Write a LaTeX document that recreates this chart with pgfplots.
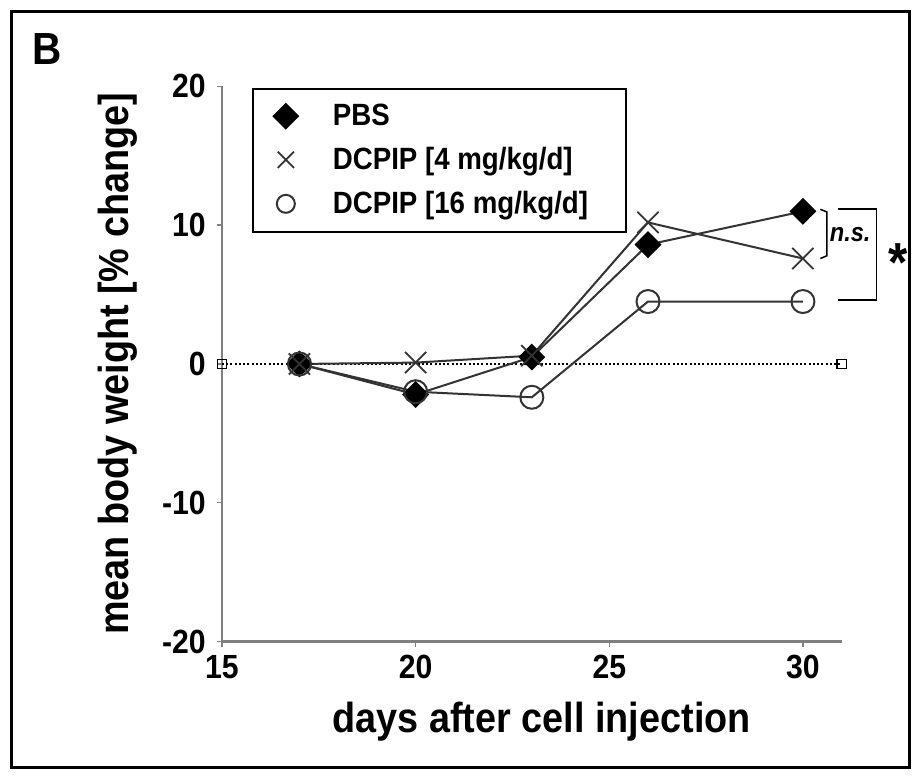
\documentclass[border=0pt]{standalone}
\usepackage{pgfplots}
\pgfplotsset{compat=1.18}
\usepackage{fontspec}
\setmainfont[FakeStretch=0.9]{Liberation Sans}
\definecolor{spine}{HTML}{808080}
\definecolor{ser}{HTML}{333333}

\begin{document}
\begin{tikzpicture}
\begin{axis}[
    x=15.49pt, y=5.55pt,
    xmin=15, xmax=31, ymin=-20, ymax=20,
    axis lines=left, axis line style={-, spine, line width=0.9pt},
    xtick={15,20,25,30}, xticklabels={15,20,25,30},
    ytick={-20,-10,0,10,20}, yticklabels={-20,-10,0,10,20},
    tick align=outside, major tick length=2pt,
    tick style={spine, line width=0.6pt},
    ticklabel style={font=\fontsize{13.4}{15}\selectfont\bfseries},
    yticklabel style={xshift=-1pt},
    xlabel={days after cell injection},
    ylabel={mean body weight [\% change]},
    xlabel style={font=\fontsize{16.8}{19}\selectfont\bfseries, at={(axis description cs:0.516,-0.144)}, anchor=center},
    ylabel style={font=\fontsize{16.8}{19}\selectfont\bfseries, at={(axis description cs:-0.169,0.5)}, anchor=center, rotate=0},
    clip=false,
    legend cell align=left,
    legend style={at={(axis description cs:0.048,0.998)}, anchor=north west,
        draw=black, line width=0.8pt, font=\fontsize{12.3}{14}\selectfont\bfseries,
        row sep=3.2pt, inner xsep=3pt, inner ysep=4pt},
    legend image code/.code={\path[draw=none] (0cm,0cm) -- (0.95cm,0cm);
        \draw[#1,only marks] plot coordinates {(0.36cm,0cm)};},
]
% zero reference line
\addplot[black, line width=1pt, dash pattern=on 0.8pt off 0.9pt, mark=square, mark size=1.9pt, mark options={solid, fill=white, line width=0.5pt}, forget plot]
  coordinates {(15,0) (31,0)};

\addplot[ser, line width=0.8pt, mark=square*, mark size=3.4pt, mark options={black, rotate=45}]
  coordinates {(17,0) (20,-2.2) (23,0.5) (26,8.6) (30,11.0)};
\addlegendentry{PBS}

\addplot[ser, line width=0.8pt, mark=x, mark size=6pt, mark options={ser, line width=0.7pt},
  legend image post style={mark size=4.6pt}]
  coordinates {(17,0) (20,0.1) (23,0.6) (26,10.2) (30,7.6)};
\addlegendentry{DCPIP [4 mg/kg/d]}

\addplot[ser, line width=0.8pt, mark=o, mark size=4.6pt, mark options={ser, line width=0.8pt},
  legend image post style={mark size=3.6pt}]
  coordinates {(17,0) (20,-2.0) (23,-2.4) (26,4.5) (30,4.5)};
\addlegendentry{DCPIP [16 mg/kg/d]\hspace*{10pt}}

% significance brackets
\draw[black, line width=0.6pt] (axis cs:30.45,11.15) -- (axis cs:30.62,10.95) -- (axis cs:30.62,7.8) -- (axis cs:30.45,7.6);
\draw[black, line width=0.6pt] (axis cs:30.9,11.17) -- (axis cs:31.9,11.17) -- (axis cs:31.9,4.61) -- (axis cs:30.9,4.61);
\node[font=\fontsize{10.5}{12}\selectfont\bfseries\itshape] at (axis cs:31.22,9.3) {n.s.};
\node[font=\fontsize{22}{24}\selectfont\bfseries] at (axis cs:32.45,7.3) {*};

% panel letter, frame and white margin
\node[anchor=base west, font=\fontsize{18}{20}\selectfont\bfseries, inner sep=0pt] at (axis cs:10.09,21.55) {B};
\draw[black, line width=1.2pt] (axis cs:9.578,-29.05) rectangle (axis cs:32.764,25.37);
\path (axis cs:9.268,-29.91) rectangle (axis cs:33.10,26.23);
\end{axis}
\end{tikzpicture}
\end{document}
